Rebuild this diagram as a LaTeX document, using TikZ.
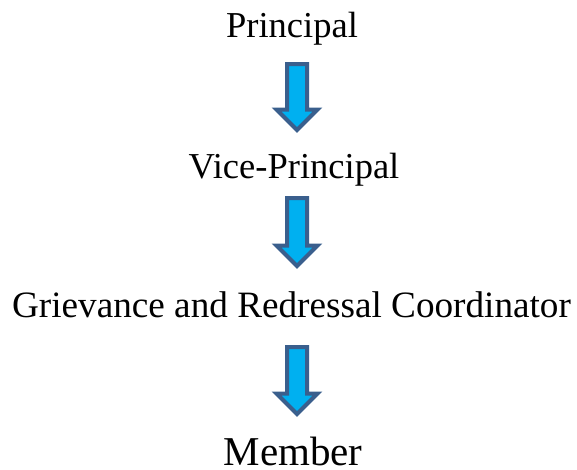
\documentclass[tikz,border=0pt]{standalone}
\usepackage{fontspec}
\setmainfont{Liberation Serif}
\usetikzlibrary{shapes.arrows}
\definecolor{arrowfill}{HTML}{00B0F0}
\definecolor{arrowline}{HTML}{3A5F8D}
\begin{document}
\begin{tikzpicture}[x=1pt,y=-1pt,
  lbl/.style={inner sep=0pt,anchor=base,font=\fontsize{#1}{40}\selectfont},
  lbl/.default=36.5,
  blockarrow/.style={single arrow,draw=arrowline,fill=arrowfill,line width=4pt,
    rotate=-90,inner xsep=0pt,inner ysep=8pt,single arrow head extend=10.5pt,
    single arrow tip angle=90,minimum height=#1,anchor=tail}]
\useasboundingbox (0,0) rectangle (577,469);
\node[lbl] (p) at (292,37.5) {Principal};
\node[lbl] (vp) at (294,178) {Vice-Principal};
\node[lbl=37.2] (g) at (291.5,317) {Grievance and Redressal Coordinator};
\node[lbl=41] (m) at (293,465) {Member};
\node[blockarrow=66pt] (a1) at (297,62) {};
\node[blockarrow=68pt] (a2) at (297,196) {};
\node[blockarrow=67pt] (a3) at (297,345) {};
\end{tikzpicture}
\end{document}
